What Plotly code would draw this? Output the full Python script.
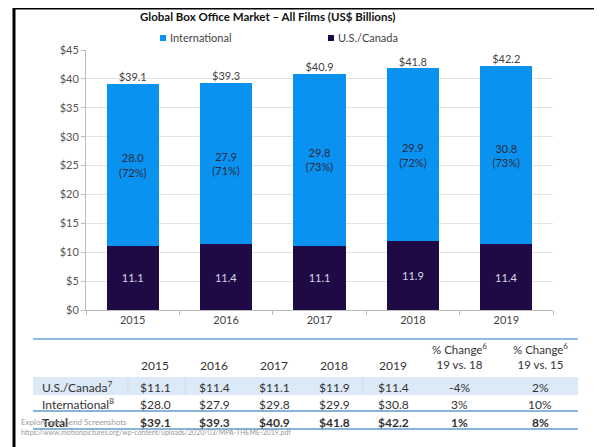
import plotly.graph_objects as go

years = ["2015", "2016", "2017", "2018", "2019"]
us_canada = [11.1, 11.4, 11.1, 11.9, 11.4]
international = [28.0, 27.9, 29.8, 29.9, 30.8]
intl_share = ["72%", "71%", "73%", "72%", "73%"]
totals = [39.1, 39.3, 40.9, 41.8, 42.2]
chg_19_18 = ["-4%", "3%", "1%"]
chg_19_15 = ["2%", "10%", "8%"]
row_labels = ["U.S./Canada<sup>7</sup>", "International<sup>8</sup>", "<b>Total</b>"]
y_ticks = [0, 5, 10, 15, 20, 25, 30, 35, 40, 45]

BLUE = "#0A92F1"
NAVY = "#1F0A45"
FONT = "Lato, Open Sans, sans-serif"

# page body adds an 8px margin, so the figure is drawn 8px smaller and shifted
OFF = 8
W, H = 602 - OFF, 447 - OFF
L, R, T, B = 86 - OFF, 553 - OFF, 50 - OFF, 310 - OFF


def px(x):
    return (x - OFF - L) / (R - L)


def py(y):
    return (B - (y - OFF)) / (B - T)


annots = []
shapes = []


def ann(text, x, y, size=12, color="#333", xanchor="center", **kw):
    annots.append(dict(text=text, x=px(x), y=py(y), xref="paper", yref="paper", showarrow=False,
                       xanchor=xanchor, yanchor="middle", font=dict(size=size, color=color, family=FONT), **kw))


def hline(x0, x1, y, color, width):
    shapes.append(dict(type="line", xref="paper", yref="paper", x0=px(x0), x1=px(x1), y0=py(y), y1=py(y),
                       line=dict(color=color, width=width)))


fig = go.Figure()
fig.add_trace(go.Bar(
    x=years, y=us_canada, name="U.S./Canada", marker=dict(color=NAVY, line=dict(width=0)),
    text=[f"{v:.1f}" for v in us_canada], textposition="inside", insidetextanchor="middle",
    textfont=dict(color="#D8D8E8", size=11, family=FONT), showlegend=False,
))
fig.add_trace(go.Bar(
    x=years, y=international, name="International", marker=dict(color=BLUE, line=dict(width=0)),
    text=[f"{v:.1f}<br>({s})" for v, s in zip(international, intl_share)],
    textposition="inside", insidetextanchor="middle",
    textfont=dict(color="#2a2a3a", size=11, family=FONT), showlegend=False,
))
fig.add_trace(go.Scatter(
    x=years, y=totals, mode="text", text=[f"${v:.1f}" for v in totals],
    textposition="top center", textfont=dict(color="#444", size=11, family=FONT),
    showlegend=False, hoverinfo="skip",
))

fig.update_layout(
    width=W, height=H, barmode="stack", bargap=0.44,
    margin=dict(l=L, r=W - R, t=T, b=H - B),
    plot_bgcolor="white", paper_bgcolor="white",
    font=dict(family=FONT, color="#444"),
    uniformtext=dict(minsize=8, mode="show"),
)
fig.update_yaxes(
    range=[0, 45], tickvals=y_ticks, ticktext=[f"${v}" for v in y_ticks],
    showgrid=True, gridcolor="#E4E4E4", gridwidth=1,
    showline=True, linecolor="#BBBBBB", linewidth=1,
    ticks="outside", ticklen=4, tickcolor="#BBBBBB",
    tickfont=dict(size=11, color="#555", family=FONT), zeroline=False,
)
fig.update_xaxes(
    showline=True, linecolor="#BBBBBB", linewidth=1,
    ticks="outside", ticklen=4, tickcolor="#BBBBBB", tickson="boundaries",
    tickfont=dict(size=11, color="#444", family=FONT),
)

# outer frame
for x0, y0, x1, y1 in [(14, 8, 599, 8), (14, 8, 14, 447), (599, 8, 599, 447)]:
    shapes.append(dict(type="line", xref="paper", yref="paper", x0=px(x0), y0=py(y0), x1=px(x1), y1=py(y1),
                       line=dict(color="black", width=3)))

# title
ann("<b>Global Box Office Market – All Films (US$ Billions)</b>", 267, 16, size=11.5, color="#111")

# manual legend
for name, color, sx in [("International", BLUE, 160), ("U.S./Canada", NAVY, 328)]:
    shapes.append(dict(type="rect", xref="paper", yref="paper", x0=px(sx), x1=px(sx + 6), y0=py(35), y1=py(41),
                       fillcolor=color, line=dict(width=0)))
    ann(name, sx + 8, 38, size=11, color="#444", xanchor="left")

# table
hline(33, 578, 339, "#8DBDE8", 2)
shapes.append(dict(type="rect", xref="paper", yref="paper", x0=px(33), x1=px(578), y0=py(377), y1=py(395),
                   fillcolor="#DCEAF8", line=dict(width=0)))
for vx in [128, 185, 363]:
    shapes.append(dict(type="line", xref="paper", yref="paper", x0=px(vx), x1=px(vx), y0=py(377), y1=py(395),
                       line=dict(color="#C9DDF2", width=1)))
hline(33, 578, 411, "#5C9BD6", 1.5)
hline(33, 578, 429, "#5C9BD6", 1.5)

col_x = [155, 214, 274, 334, 393]
chg_x = [459, 540]
row_y = [387, 404, 422]

for cx, yr in zip(col_x, years):
    ann(yr, cx, 365)
ann("% Change<sup>6</sup><br>19 vs. 18", chg_x[0], 356, size=11.5)
ann("% Change<sup>6</sup><br>19 vs. 15", chg_x[1], 356, size=11.5)

rows = [us_canada, international, totals]
for i, (lab, vals, ry) in enumerate(zip(row_labels, rows, row_y)):
    bold = i == 2
    ann(lab, 40, ry, xanchor="left")
    for cx, v in zip(col_x, vals):
        t = f"${v:.1f}"
        ann(f"<b>{t}</b>" if bold else t, cx, ry)
    for cx, c in zip(chg_x, [chg_19_18[i], chg_19_15[i]]):
        ann(f"<b>{c}</b>" if bold else c, cx, ry)

# watermark
ann("Explore and Send Screenshots", 19, 422, size=8, color="#9a9a9a", xanchor="left")
ann("https://www.motionpictures.org/wp-content/uploads/2020/03/MPA-THEME-2019.pdf", 19, 432, size=7,
    color="#9a9a9a", xanchor="left")

fig.update_layout(shapes=shapes, annotations=annots)
fig.write_html("out.html")
